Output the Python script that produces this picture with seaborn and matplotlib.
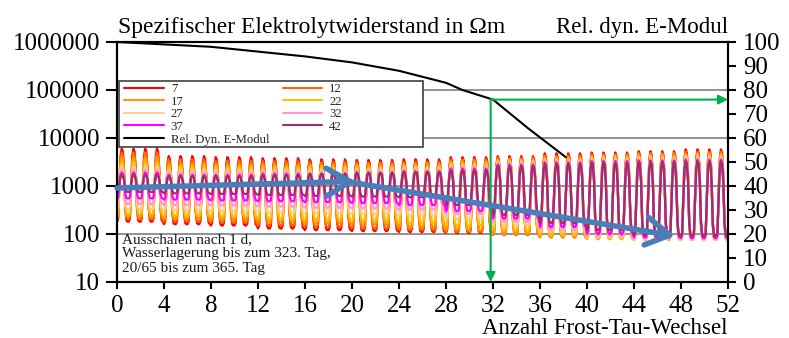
import numpy as np
import pandas as pd
import matplotlib
matplotlib.use("Agg")
import matplotlib.pyplot as plt
import seaborn as sns
from matplotlib.lines import Line2D
from matplotlib.patches import Rectangle
from matplotlib.ticker import FixedLocator, FixedFormatter, NullLocator

# ---------------- data ----------------
series_labels = ["7", "12", "17", "22", "27", "32", "37", "42"]
series_colors = ["#FF0000", "#FF6600", "#FF9900", "#FFC000",
                 "#FFCC99", "#FF99CC", "#FF00FF", "#993366"]

# peak / trough values per block of 4 frost-thaw cycles (13 blocks, 0..52)
peak_7  = [6000, 4200, 4000, 3800, 3600, 3500, 3600, 4000, 4200, 4800, 5000, 5300, 5800]
peak_12 = [5000, 3600, 3400, 3300, 3200, 3100, 3200, 3600, 3900, 4300, 4600, 4900, 5200]
peak_17 = [4000, 3000, 2900, 2800, 2800, 2800, 2900, 3300, 3600, 4000, 4300, 4500, 4800]
peak_22 = [3200, 2600, 2500, 2500, 2500, 2500, 2600, 3000, 3400, 3700, 4000, 4200, 4400]
peak_27 = [2600, 2200, 2200, 2200, 2200, 2300, 2400, 2700, 3200, 3500, 3700, 3900, 4100]
peak_32 = [2200, 1900, 1900, 2000, 2000, 2100, 2200, 2500, 3000, 3300, 3500, 3600, 3800]
peak_37 = [1900, 1700, 1700, 1800, 1800, 1900, 2000, 2300, 2800, 3100, 3300, 3400, 3500]
peak_42 = [1700, 1600, 1600, 1700, 1800, 1900, 2000, 2100, 2600, 2900, 3100, 3200, 3300]

trough_7  = [180, 160, 150, 130, 120, 115, 110, 105, 100, 95, 90, 90, 90]
trough_12 = [200, 180, 170, 150, 140, 130, 120, 110, 95, 85, 80, 78, 78]
trough_17 = [230, 210, 200, 180, 170, 160, 140, 120, 100, 85, 78, 75, 75]
trough_22 = [260, 240, 230, 210, 200, 190, 170, 150, 120, 95, 80, 76, 75]
trough_27 = [330, 310, 300, 280, 270, 260, 240, 200, 150, 110, 85, 78, 76]
trough_32 = [420, 400, 390, 370, 350, 340, 320, 260, 180, 120, 90, 80, 78]
trough_37 = [550, 520, 500, 480, 460, 440, 400, 300, 210, 140, 100, 85, 82]
trough_42 = [750, 700, 680, 650, 620, 600, 580, 400, 250, 170, 120, 95, 90]

peaks = [peak_7, peak_12, peak_17, peak_22, peak_27, peak_32, peak_37, peak_42]
troughs = [trough_7, trough_12, trough_17, trough_22, trough_27, trough_32, trough_37, trough_42]

# relative dynamic E-modulus (%)
emod_x = [0, 4, 8, 12, 16, 20, 24, 28, 29.4, 32, 35, 38.2]
emod_y = [100, 99, 98, 96, 94, 91.5, 88, 83, 80, 76, 64, 52]

x_ticks = list(range(0, 53, 4))
y_ticks = [10, 100, 1000, 10000, 100000, 1000000]
y_ticklabels = ["10", "100", "1000", "10000", "100000", "1000000"]
y2_ticks = list(range(0, 101, 10))

n_cycles = 52
block = 4

# waveform of one frost-thaw cycle (fraction of cycle, relative log height)
cyc_frac = [0.0, 0.1, 0.2, 0.3, 0.4, 0.5, 0.6, 0.7, 0.8, 0.9]
cyc_shape = [0.0, 0.04, 0.5, 0.9, 1.0, 0.96, 0.72, 0.18, 0.02, 0.0]

rows = []
for lab, pk, tr in zip(series_labels, peaks, troughs):
    pk_c = np.repeat(pk, block)[:n_cycles]
    tr_c = np.repeat(tr, block)[:n_cycles]
    for i in range(n_cycles):
        lo, hi = np.log10(tr_c[i]), np.log10(pk_c[i])
        for f, w in zip(cyc_frac, cyc_shape):
            rows.append((lab, i + f, 10 ** (lo + w * (hi - lo))))
    rows.append((lab, float(n_cycles), tr_c[-1]))
df = pd.DataFrame(rows, columns=["Tiefe", "x", "v"])

# ---------------- plot ----------------
sns.set_theme(style="white")
plt.rcParams["font.family"] = ["Liberation Serif", "DejaVu Serif"]

fig = plt.figure(figsize=(7.89, 3.38), dpi=100)
ax = fig.add_axes([117 / 789, 1 - 282 / 338, 611 / 789, 240 / 338])

sns.lineplot(data=df, x="x", y="v", hue="Tiefe", hue_order=series_labels,
             palette=series_colors, sort=False, estimator=None,
             linewidth=1.6, legend=False, ax=ax)
ax.set_yscale("log")
ax.set_xlim(0, 52)
ax.set_ylim(10, 1000000)
ax.set_xlabel("")
ax.set_ylabel("")
ax.xaxis.set_major_locator(FixedLocator(x_ticks))
ax.yaxis.set_major_locator(FixedLocator(y_ticks))
ax.yaxis.set_major_formatter(FixedFormatter(y_ticklabels))
ax.yaxis.set_minor_locator(NullLocator())
ax.grid(axis="y", which="major", color="#7f7f7f", linewidth=1.2)
ax.grid(axis="x", visible=False)
ax.tick_params(axis="y", which="major", direction="out", length=8, width=1.5,
               labelsize=18, pad=4, left=True, colors="black")
ax.tick_params(axis="x", which="major", direction="out", length=5, width=1.5,
               labelsize=18, pad=4, bottom=True, colors="black")
for sp in ax.spines.values():
    sp.set_color("black")
    sp.set_linewidth(1.5)

ax2 = ax.twinx()
sns.lineplot(x=emod_x, y=emod_y, color="black", linewidth=1.5, ax=ax2)
ax2.set_ylim(0, 100)
ax2.yaxis.set_major_locator(FixedLocator(y2_ticks))
ax2.tick_params(axis="y", direction="out", length=6, width=1.5, labelsize=18,
                pad=5, right=True, colors="black")
ax2.grid(False)
ax2.set_ylabel("")
for sp in ax2.spines.values():
    sp.set_color("black")
    sp.set_linewidth(1.5)

# green arrows
green = "#00B050"
ax2.annotate("", xy=(31.8, 0), xytext=(31.8, 76),
             arrowprops=dict(arrowstyle="-|>", color=green, lw=1.5,
                             mutation_scale=14, shrinkA=0, shrinkB=0))
ax2.annotate("", xy=(52, 76), xytext=(31.8, 76),
             arrowprops=dict(arrowstyle="-|>", color=green, lw=1.5,
                             mutation_scale=14, shrinkA=0, shrinkB=0))

# blue trend arrows
blue = "#4A7EBB"
ax2.annotate("", xy=(20.3, 1250), xytext=(0, 910),
             xycoords=ax.transData, textcoords=ax.transData,
             arrowprops=dict(arrowstyle="->,head_length=0.85,head_width=0.5",
                             color=blue, lw=4, mutation_scale=20,
                             shrinkA=0, shrinkB=0))
ax2.annotate("", xy=(47.5, 91), xytext=(18.8, 1330),
             xycoords=ax.transData, textcoords=ax.transData,
             arrowprops=dict(arrowstyle="->,head_length=0.85,head_width=0.5",
                             color=blue, lw=4, mutation_scale=20,
                             shrinkA=0, shrinkB=0))

# legend box + legend
box = Rectangle((2 / 611, (282 - 147) / 240), (423 - 119) / 611, 66 / 240,
                transform=ax2.transAxes, facecolor="white", edgecolor="#404040",
                linewidth=1.2, zorder=9)
ax2.add_patch(box)
order = [0, 2, 4, 6, None, 1, 3, 5, 7]
handles, labels = [], []
for idx in order:
    if idx is None:
        handles.append(Line2D([], [], color="black", lw=1.5))
        labels.append("Rel. Dyn. E-Modul")
    else:
        handles.append(Line2D([], [], color=series_colors[idx], lw=1.5))
        labels.append(series_labels[idx])
leg = ax2.legend(handles, labels, ncol=2, loc="upper left",
                 bbox_to_anchor=(7 / 611, (282 - 83) / 240),
                 fontsize=9.2, frameon=False,
                 borderpad=0, labelspacing=0.05, handlelength=3.1,
                 handletextpad=0.55, columnspacing=1.05, borderaxespad=0)
leg.set_zorder(10)

# annotation text
ax.text(0.008, 0.205, "Ausschalen nach 1 d,\nWasserlagerung bis zum 323. Tag,\n20/65 bis zum 365. Tag",
        transform=ax.transAxes, ha="left", va="top", fontsize=11,
        linespacing=1.15, color="#1a1a1a")

# titles and axis label
fig.text(118 / 789, 1 - 27 / 338, "Spezifischer Elektrolytwiderstand in Ωm",
         ha="left", va="center", fontsize=17, color="black")
fig.text(728 / 789, 1 - 27 / 338, "Rel. dyn. E-Modul",
         ha="right", va="center", fontsize=16.5, color="black")
fig.text(728 / 789, 1 - 328 / 338, "Anzahl Frost-Tau-Wechsel",
         ha="right", va="center", fontsize=16.5, color="black")

fig.savefig("out.png", dpi=100)
